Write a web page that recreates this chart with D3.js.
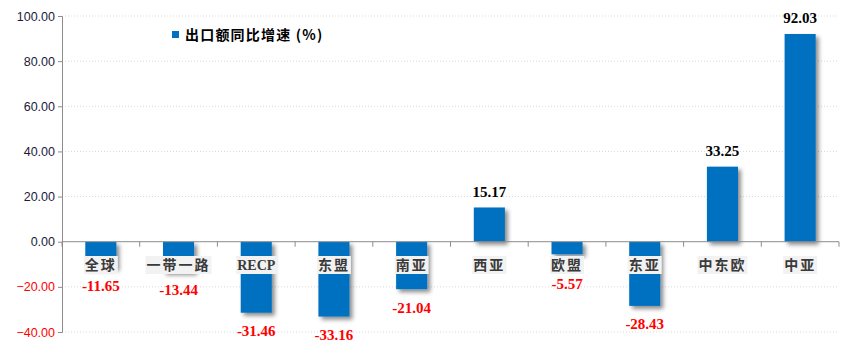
<!DOCTYPE html>
<html><head><meta charset="utf-8">
<script src="https://cdn.jsdelivr.net/npm/d3@7"></script>
<style>body{margin:0;background:#fff}</style>
</head><body>
<script>
const categories = ["全球","一带一路","RECP","东盟","南亚","西亚","欧盟","东亚","中东欧","中亚"];
const values = [-11.65,-13.44,-31.46,-33.16,-21.04,15.17,-5.57,-28.43,33.25,92.03];
const yTicks = [100,80,60,40,20,0,-20,-40];
const seriesName = "出口额同比增速 (%)";

const W=858,H=359, L=62, R=839, T=16, B=332;
const svg=d3.select("body").append("svg").attr("width",W).attr("height",H);
const defs=svg.append("defs");
const f=defs.append("filter").attr("id","sh").attr("x","-30%").attr("y","-30%").attr("width","170%").attr("height","170%");
f.append("feDropShadow").attr("dx",3).attr("dy",3).attr("stdDeviation",2).attr("flood-color","#000").attr("flood-opacity",0.45);

const y=d3.scaleLinear().domain([-40,100]).range([B,T]);
const x=d3.scaleBand().domain(categories).range([L,R]).paddingInner(0.6).paddingOuter(0.3);
const step=x.step();
const catY=265;

// grid
svg.append("g").selectAll("line").data(yTicks.filter(d=>d!==0)).join("line")
 .attr("x1",L).attr("x2",R).attr("y1",d=>y(d)).attr("y2",d=>y(d))
 .attr("stroke","#d9d9d9").attr("stroke-dasharray","1,2");

// y axis
const ya=svg.append("g").attr("transform",`translate(${L},0)`)
 .call(d3.axisLeft(y).tickValues(yTicks).tickFormat(d3.format(".2f")).tickSize(4).tickPadding(3));
ya.select(".domain").attr("stroke","#8c8c8c");
ya.selectAll(".tick line").attr("stroke","#8c8c8c");
ya.selectAll(".tick text").attr("font-family","Liberation Sans, Arial, sans-serif").attr("font-size",12.5)
 .attr("fill",d=>d<0?"#ff0000":"#1a1a3a");

// bars
svg.append("g").selectAll("rect").data(values).join("rect")
 .attr("x",(d,i)=>x(categories[i])).attr("width",x.bandwidth())
 .attr("y",d=>y(Math.max(0,d))).attr("height",d=>Math.abs(y(d)-y(0)))
 .attr("fill","#0070c0").attr("filter","url(#sh)");

// zero axis
svg.append("line").attr("x1",L).attr("x2",R).attr("y1",y(0)).attr("y2",y(0)).attr("stroke","#8c8c8c");
svg.append("g").selectAll("line").data(d3.range(categories.length+1)).join("line")
 .attr("x1",i=>L+i*step).attr("x2",i=>L+i*step).attr("y1",y(0)).attr("y2",y(0)+5).attr("stroke","#8c8c8c");

// value labels
svg.append("g").selectAll("text").data(values).join("text")
 .attr("x",(d,i)=>x(categories[i])+x.bandwidth()/2)
 .attr("y",d=>d>=0?y(d)-16:Math.max(y(d)+18,catY+19)).attr("dy","0.36em")
 .attr("text-anchor","middle").attr("font-family","Liberation Serif, serif").attr("font-weight","bold")
 .attr("font-size",15).attr("fill",d=>d<0?"#ff0000":"#000")
 .text(d=>d.toFixed(2));

// category labels
const cg=svg.append("g").selectAll("g").data(categories).join("g")
 .attr("transform",d=>`translate(${x(d)+x.bandwidth()/2},${catY})`);
cg.append("text").text(d=>d).attr("text-anchor","middle").attr("dy","0.36em")
 .attr("font-family",d=>/^[A-Z]+$/.test(d)?"Liberation Serif, serif":"Noto Sans CJK SC, sans-serif")
 .attr("font-weight","bold").attr("font-size",14).attr("fill","#3a3a3a")
 .attr("letter-spacing",d=>/^[A-Z]+$/.test(d)?0:2)
 .each(function(){
   const b=this.getBBox();
   d3.select(this.parentNode).insert("rect","text").attr("x",b.x-1).attr("y",-9).attr("width",b.width+2).attr("height",18).attr("fill","#f2f2f2");
 });

// legend
svg.append("rect").attr("x",172).attr("y",31).attr("width",7).attr("height",7).attr("fill","#0070c0");
svg.append("text").attr("x",185).attr("y",35).attr("dy","0.36em").text(seriesName)
 .attr("font-family","Noto Sans CJK SC, sans-serif").attr("font-weight","bold").attr("font-size",14)
 .attr("letter-spacing",1.2).attr("fill","#000");
</script>
</body></html>
